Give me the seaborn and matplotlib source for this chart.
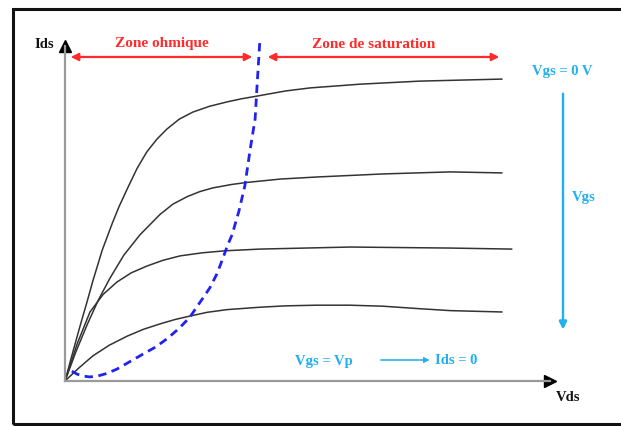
import numpy as np
import pandas as pd
import matplotlib
matplotlib.use("Agg")
import matplotlib.pyplot as plt
from matplotlib.patches import Rectangle
import seaborn as sns

# Output characteristics Ids(Vds) of a JFET, one curve per Vgs level (arbitrary units)
vds_vgs0 = [0, 0.15, 0.30, 0.45, 0.57, 0.76, 0.96, 1.10, 1.27, 1.47, 1.67, 1.88, 2.08, 2.33,
            2.61, 2.95, 3.31, 3.60, 3.92, 4.50, 5.00, 6.02, 7.24, 8.92]
ids_vgs0 = [0, 0.80, 1.58, 2.33, 2.95, 3.85, 4.62, 5.12, 5.65, 6.25, 6.74, 7.12, 7.41, 7.70,
            7.91, 8.08, 8.21, 8.30, 8.38, 8.53, 8.62, 8.73, 8.82, 8.88]

vds_vgs1 = [0, 0.22, 0.45, 0.68, 0.92, 1.20, 1.53, 1.94, 2.20, 2.49, 2.75, 3.02, 3.40, 3.71,
            4.40, 5.14, 6.49, 7.86, 8.92]
ids_vgs1 = [0, 0.85, 1.65, 2.38, 3.03, 3.70, 4.30, 4.90, 5.20, 5.42, 5.57, 5.68, 5.78, 5.84,
            5.94, 6.00, 6.09, 6.15, 6.12]

vds_vgs2 = [0, 0.25, 0.51, 0.78, 1.06, 1.35, 1.67, 2.00, 2.35, 2.80, 3.27, 3.98, 5.82, 7.86, 9.12]
ids_vgs2 = [0, 1.10, 2.03, 2.55, 2.91, 3.18, 3.38, 3.55, 3.68, 3.77, 3.83, 3.88, 3.94, 3.91, 3.88]

vds_vgs3 = [0, 0.28, 0.57, 0.90, 1.27, 1.60, 1.94, 2.25, 2.55, 2.90, 3.31, 3.98, 4.50, 5.14,
            5.80, 6.49, 7.20, 7.86, 8.92]
ids_vgs3 = [0, 0.38, 0.74, 1.05, 1.32, 1.52, 1.68, 1.81, 1.91, 2.02, 2.10, 2.17, 2.21, 2.23,
            2.23, 2.20, 2.13, 2.07, 2.03]

# Pinch-off locus (blue dashed)
vp_vds = [0.14, 0.25, 0.35, 0.50, 0.65, 0.85, 1.06, 1.30, 1.59, 1.85, 2.08, 2.33, 2.55, 2.70,
          2.82, 2.96, 3.10, 3.22, 3.32, 3.41, 3.55, 3.67, 3.78, 3.88, 3.92, 3.98]
vp_ids = [0.29, 0.20, 0.15, 0.12, 0.14, 0.22, 0.35, 0.55, 0.79, 1.00, 1.24, 1.55, 1.88, 2.20,
          2.45, 2.75, 3.15, 3.60, 4.00, 4.30, 5.00, 5.74, 6.82, 7.71, 8.70, 10.09]

curves = pd.concat([
    pd.DataFrame({"Vds": vds_vgs0, "Ids": ids_vgs0, "curve": 0}),
    pd.DataFrame({"Vds": vds_vgs1, "Ids": ids_vgs1, "curve": 1}),
    pd.DataFrame({"Vds": vds_vgs2, "Ids": ids_vgs2, "curve": 2}),
    pd.DataFrame({"Vds": vds_vgs3, "Ids": ids_vgs3, "curve": 3}),
], ignore_index=True)

W, H = 621, 427
RED = "#ff2a2a"
CYAN = "#22b0ee"
SERIF = ["Liberation Serif", "DejaVu Serif"]


def fx(x):
    return x / W


def fy(y):
    return 1 - y / H


sns.set_theme(style="white")
plt.rcParams["font.family"] = SERIF

fig = plt.figure(figsize=(W / 100, H / 100), dpi=100)
ax = fig.add_axes([fx(65), fy(382), 490 / W, 340 / H])
ax.set_xlim(0, 10)
ax.set_ylim(0, 10)

sns.lineplot(data=curves, x="Vds", y="Ids", units="curve", estimator=None,
             sort=False, color="#333333", lw=1.1, ax=ax)
sns.lineplot(x=vp_vds, y=vp_ids, sort=False, color="#2222ee", lw=2.0,
             linestyle=(0, (3, 2)), clip_on=False, ax=ax)

# axes with arrow heads
for side in ["top", "right"]:
    ax.spines[side].set_visible(False)
for side in ["left", "bottom"]:
    ax.spines[side].set_color("#9a9a9a")
    ax.spines[side].set_linewidth(1.6)
ax.spines["bottom"].set_bounds(0, 9.89)
ax.spines["left"].set_bounds(0, 9.84)
ax.plot(9.89, 0, marker=">", color="black", ms=8, clip_on=False)
ax.plot(0, 9.84, marker="^", color="black", ms=8, clip_on=False)
ax.set_xticks([])
ax.set_yticks([])
ax.set_xlabel("")
ax.set_ylabel("")
ax.patch.set_alpha(0)

# zone arrows
boundary = vp_vds[-1]
ax.annotate("", xy=(boundary - 0.1, 9.53), xytext=(0.06, 9.53),
            arrowprops=dict(arrowstyle="<|-|>", color=RED, lw=1.6, mutation_scale=11),
            annotation_clip=False)
ax.annotate("", xy=(vds_vgs0[-1], 9.53), xytext=(boundary + 0.1, 9.53),
            arrowprops=dict(arrowstyle="<|-|>", color=RED, lw=1.6, mutation_scale=11),
            annotation_clip=False)

fig.text(fx(162), fy(44), "Zone ohmique", color=RED, fontsize=11, fontweight="bold",
         ha="center", va="center")
fig.text(fx(374), fy(44), "Zone de saturation", color=RED, fontsize=11, fontweight="bold",
         ha="center", va="center")

fig.text(fx(44), fy(44), "Ids", color="#111111", fontsize=10.5, fontweight="bold",
         ha="center", va="center")
fig.text(fx(568), fy(398), "Vds", color="#111111", fontsize=10.5, fontweight="bold",
         ha="center", va="center")

# Vgs annotations
fig.text(fx(562), fy(72), "Vgs = 0 V", color=CYAN, fontsize=10.5, fontweight="bold",
         ha="center", va="center")
fig.text(fx(584), fy(197), "Vgs", color=CYAN, fontsize=10.5, fontweight="bold",
         ha="center", va="center")
fig.text(fx(324), fy(361), "Vgs = Vp", color=CYAN, fontsize=10.5, fontweight="bold",
         ha="center", va="center")
fig.text(fx(435), fy(361), "Ids = 0", color=CYAN, fontsize=10.5, fontweight="bold",
         ha="left", va="center")
fig.add_artist(plt.annotate("", xy=(fx(563), fy(333)), xytext=(fx(563), fy(92)),
                            xycoords="figure fraction", textcoords="figure fraction",
                            arrowprops=dict(arrowstyle="-|>", color=CYAN, lw=1.6,
                                            mutation_scale=11)))
fig.add_artist(plt.annotate("", xy=(fx(432), fy(361)), xytext=(fx(378), fy(361)),
                            xycoords="figure fraction", textcoords="figure fraction",
                            arrowprops=dict(arrowstyle="-|>", color=CYAN, lw=0.8,
                                            mutation_scale=8)))

# outer frame (right edge falls outside the picture)
fig.patches.append(Rectangle((fx(13), fy(425)), 1.0, (425 - 10) / H, transform=fig.transFigure,
                             fill=False, edgecolor="#111111", lw=2.2))

fig.savefig("out.png", dpi=100)
